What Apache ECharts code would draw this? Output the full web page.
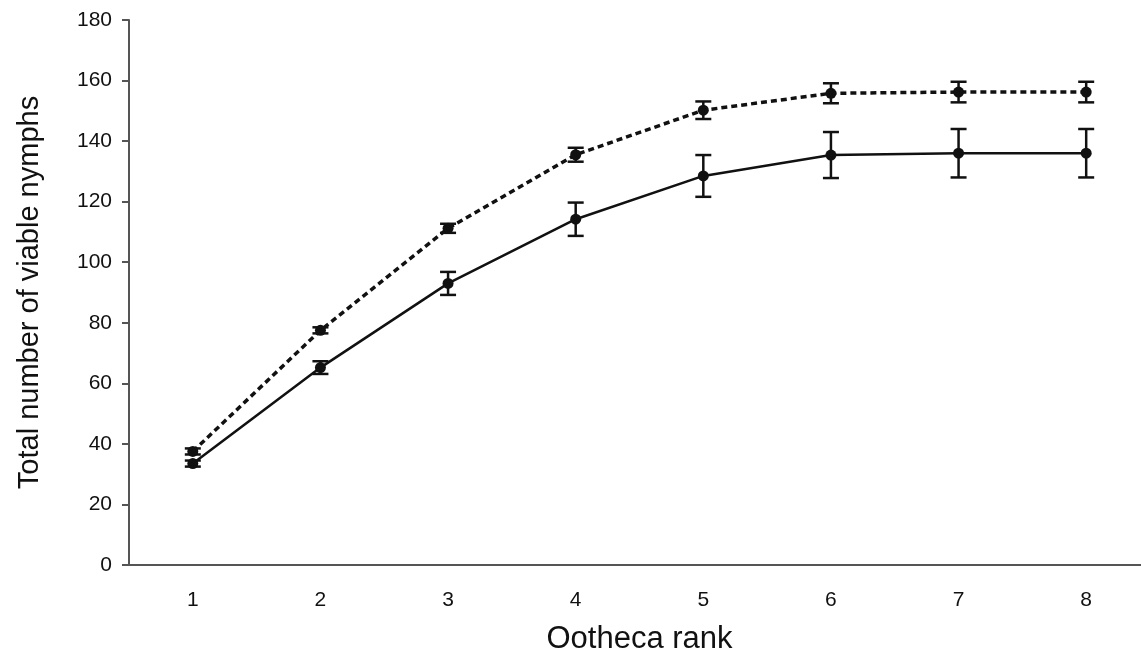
<!DOCTYPE html>
<html>
<head>
<meta charset="utf-8">
<script src="https://cdn.jsdelivr.net/npm/echarts@6/dist/echarts.min.js"></script>
<style>
  html, body { margin: 0; padding: 0; background: #fff; }
  #chart { width: 1141px; height: 658px; }
</style>
</head>
<body>
<div id="chart"></div>
<script>
const ranks = ["1", "2", "3", "4", "5", "6", "7", "8"];
const dottedMean = [37.5, 77.5, 111.2, 135.5, 150.2, 155.8, 156.2, 156.2];
const dottedErr = [1, 1, 1.5, 2.3, 2.9, 3.3, 3.4, 3.4];
const solidMean = [33.5, 65.2, 93, 114.2, 128.5, 135.4, 136, 136];
const solidErr = [1, 2.1, 3.8, 5.5, 6.9, 7.6, 8, 8];

function errData(mean, err) {
  return mean.map((m, i) => [i, m - err[i], m + err[i]]);
}

// error bar with caps
function renderErr(params, api) {
  const lo = api.coord([api.value(0), api.value(1)]);
  const hi = api.coord([api.value(0), api.value(2)]);
  const w = 8;
  const style = { stroke: "#111", lineWidth: 2.5 };
  return {
    type: "group",
    children: [
      { type: "line", shape: { x1: lo[0], y1: lo[1], x2: hi[0], y2: hi[1] }, style },
      { type: "line", shape: { x1: hi[0] - w, y1: hi[1], x2: hi[0] + w, y2: hi[1] }, style },
      { type: "line", shape: { x1: lo[0] - w, y1: lo[1], x2: lo[0] + w, y2: lo[1] }, style },
    ],
  };
}

const chart = echarts.init(document.getElementById("chart"));
const axisColor = "#555";
chart.setOption({
  animation: false,
  textStyle: { fontFamily: "Liberation Sans, Arial, sans-serif" },
  grid: {
    left: 129, top: 20, width: 1021, bottom: 93,
    containLabel: false,
    outerBoundsMode: "none",
  },
  xAxis: {
    type: "category",
    data: ranks,
    boundaryGap: true,
    name: "Ootheca rank",
    nameLocation: "middle",
    nameGap: 59,
    nameTextStyle: { fontSize: 31, color: "#111" },
    axisLine: { lineStyle: { color: axisColor, width: 2 } },
    axisTick: { length: 6, lineStyle: { color: axisColor, width: 2 } },
    axisLabel: { fontSize: 21, color: "#111", margin: 25 },
    splitLine: { show: false },
  },
  yAxis: {
    type: "value",
    min: 0,
    max: 180,
    interval: 20,
    name: "Total number of viable nymphs",
    nameLocation: "middle",
    nameRotate: 90,
    nameGap: 85,
    nameTextStyle: { fontSize: 29, color: "#111" },
    axisLine: { show: true, lineStyle: { color: axisColor, width: 2 } },
    axisTick: { show: true, length: 7, lineStyle: { color: axisColor, width: 2 } },
    axisLabel: { fontSize: 21, color: "#111", margin: 17 },
    splitLine: { show: false },
  },
  series: [
    {
      name: "dotted",
      type: "line",
      data: dottedMean,
      symbol: "circle",
      symbolSize: 11,
      itemStyle: { color: "#111" },
      lineStyle: { color: "#111", width: 3.5, type: [6, 4] },
      z: 3,
    },
    {
      name: "solid",
      type: "line",
      data: solidMean,
      symbol: "circle",
      symbolSize: 11,
      itemStyle: { color: "#111" },
      lineStyle: { color: "#111", width: 2.5 },
      z: 3,
    },
    {
      type: "custom",
      renderItem: renderErr,
      data: errData(dottedMean, dottedErr),
      encode: { x: 0, y: [1, 2] },
      z: 4,
    },
    {
      type: "custom",
      renderItem: renderErr,
      data: errData(solidMean, solidErr),
      encode: { x: 0, y: [1, 2] },
      z: 4,
    },
  ],
});
</script>
</body>
</html>
